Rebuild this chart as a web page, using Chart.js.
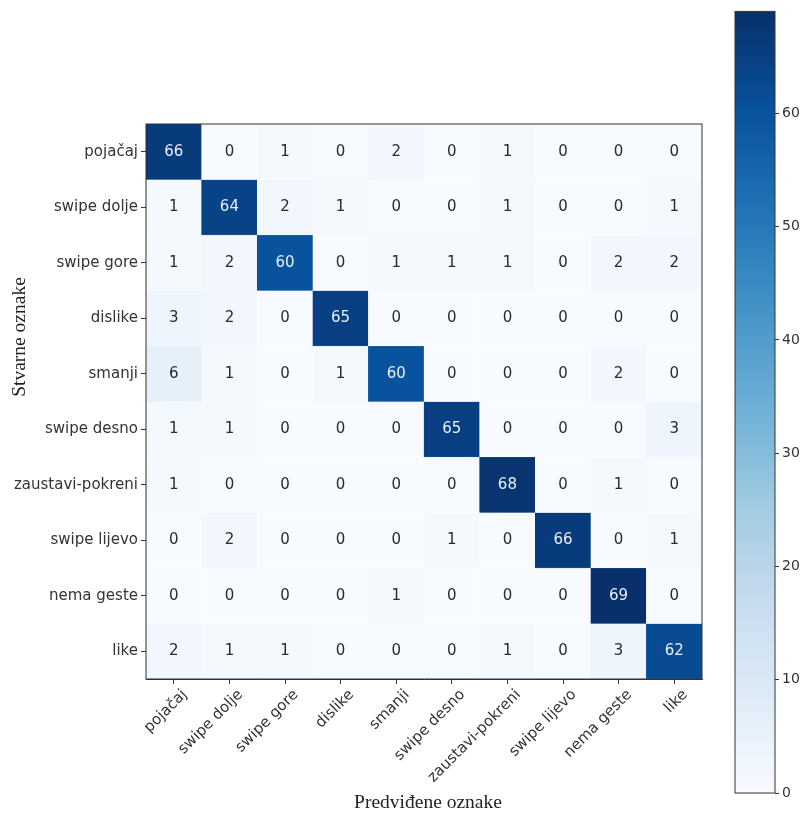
<!DOCTYPE html>
<html>
<head>
<meta charset="utf-8">
<script src="https://cdn.jsdelivr.net/npm/chart.js@4"></script>
<style>
  body { margin: 0; background: #fff; }
  #wrap { position: relative; width: 804px; height: 818px; }
  #matrix { position: absolute; left: 0; top: 0; }
  #cbar { position: absolute; left: 700px; top: 0; }
</style>
</head>
<body>
<div id="wrap">
  <canvas id="matrix" width="804" height="818"></canvas>
  <canvas id="cbar" width="104" height="818"></canvas>
</div>
<script>
// labels, same order on both axes
const predictedLabels = ["pojačaj", "swipe dolje", "swipe gore", "dislike", "smanji", "swipe desno", "zaustavi-pokreni", "swipe lijevo", "nema geste", "like"]
const trueLabels = ["pojačaj", "swipe dolje", "swipe gore", "dislike", "smanji", "swipe desno", "zaustavi-pokreni", "swipe lijevo", "nema geste", "like"]

// one row per true class
const rowPojacaj    = [66, 0, 1, 0, 2, 0, 1, 0, 0, 0]
const rowSwipeDolje = [1, 64, 2, 1, 0, 0, 1, 0, 0, 1]
const rowSwipeGore  = [1, 2, 60, 0, 1, 1, 1, 0, 2, 2]
const rowDislike    = [3, 2, 0, 65, 0, 0, 0, 0, 0, 0]
const rowSmanji     = [6, 1, 0, 1, 60, 0, 0, 0, 2, 0]
const rowSwipeDesno = [1, 1, 0, 0, 0, 65, 0, 0, 0, 3]
const rowZaustavi   = [1, 0, 0, 0, 0, 0, 68, 0, 1, 0]
const rowSwipeLijevo= [0, 2, 0, 0, 0, 1, 0, 66, 0, 1]
const rowNemaGeste  = [0, 0, 0, 0, 1, 0, 0, 0, 69, 0]
const rowLike       = [2, 1, 1, 0, 0, 0, 1, 0, 3, 62]

const colorbarTicks = [0, 10, 20, 30, 40, 50, 60]

const matrix = [rowPojacaj, rowSwipeDolje, rowSwipeGore, rowDislike, rowSmanji,
                rowSwipeDesno, rowZaustavi, rowSwipeLijevo, rowNemaGeste, rowLike]
const vmax = Math.max(...matrix.flat())

// matplotlib "Blues"
const blues = ["#f7fbff", "#deebf7", "#c6dbef", "#9ecae1", "#6baed6", "#4292c6", "#2171b5", "#08519c", "#08306b"]
function hexToRgb(h) {
  return [parseInt(h.slice(1, 3), 16), parseInt(h.slice(3, 5), 16), parseInt(h.slice(5, 7), 16)]
}
function bluesColor(t) {
  t = Math.max(0, Math.min(1, t))
  const pos = t * (blues.length - 1)
  const i = Math.min(Math.floor(pos), blues.length - 2)
  const f = pos - i
  const a = hexToRgb(blues[i]), b = hexToRgb(blues[i + 1])
  const c = a.map((v, k) => Math.round(v + (b[k] - v) * f))
  return `rgb(${c[0]},${c[1]},${c[2]})`
}

const tickFont = { family: "DejaVu Sans", size: 15 }
const textColor = "#333"

const datasets = matrix.map((row, r) => ({
  label: trueLabels[r],
  data: row.map(() => [r - 0.5, r + 0.5]),
  backgroundColor: row.map(v => bluesColor(v / vmax)),
  borderColor: row.map(v => bluesColor(v / vmax)),
  borderWidth: 0.5,
  barPercentage: 1,
  categoryPercentage: 1,
  grouped: false
}))

const cellText = {
  id: "cellText",
  afterDatasetsDraw(chart) {
    const { ctx, scales: { x, y }, chartArea } = chart
    ctx.save()
    ctx.font = "15px 'DejaVu Sans'"
    ctx.textAlign = "center"
    ctx.textBaseline = "middle"
    matrix.forEach((row, r) => {
      row.forEach((v, c) => {
        ctx.fillStyle = v > vmax / 2 ? "#e8eef8" : "#2a2a2a"
        ctx.fillText(v, x.getPixelForValue(c), y.getPixelForValue(r))
      })
    })
    ctx.strokeStyle = textColor
    ctx.lineWidth = 1
    ctx.strokeRect(chartArea.left, chartArea.top, chartArea.width, chartArea.height)
    // axis titles
    ctx.fillStyle = "#222"
    ctx.font = "19.5px 'Liberation Serif'"
    ctx.fillText("Predviđene oznake", (chartArea.left + chartArea.right) / 2 + 4, 803)
    ctx.translate(20, 337)
    ctx.rotate(-Math.PI / 2)
    ctx.fillText("Stvarne oznake", 0, 0)
    ctx.restore()
  }
}

new Chart(document.getElementById("matrix"), {
  type: "bar",
  data: { labels: predictedLabels, datasets: datasets },
  options: {
    responsive: false,
    devicePixelRatio: 1,
    animation: false,
    layout: { padding: { top: 124, right: 102, left: 0, bottom: 0 } },
    plugins: { legend: { display: false }, tooltip: { enabled: false } },
    scales: {
      x: {
        offset: true,
        grid: { offset: false, drawOnChartArea: false, drawTicks: true, tickLength: 5, color: textColor },
        border: { display: true, color: textColor },
        ticks: { font: tickFont, color: textColor, maxRotation: 45, minRotation: 45, padding: 2, labelOffset: 11, autoSkip: false },
        afterFit: s => { s.height = 818 - 679 }
      },
      y: {
        reverse: true,
        min: -0.5,
        max: 9.5,
        afterBuildTicks: s => { s.ticks = trueLabels.map((_, i) => ({ value: i })) },
        grid: { drawOnChartArea: false, drawTicks: true, tickLength: 5, color: textColor },
        border: { display: true, color: textColor },
        ticks: { font: tickFont, color: textColor, padding: 3, callback: v => trueLabels[v] },
        afterFit: s => { s.width = 146 }
      }
    }
  },
  plugins: [cellText]
})

// colorbar
const cbarFrame = {
  id: "cbarFrame",
  afterDatasetsDraw(chart) {
    const { ctx, chartArea } = chart
    ctx.save()
    ctx.strokeStyle = textColor
    ctx.lineWidth = 1
    ctx.strokeRect(chartArea.left, chartArea.top, chartArea.width, chartArea.height)
    ctx.restore()
  }
}

new Chart(document.getElementById("cbar"), {
  type: "bar",
  data: {
    labels: ["cbar"],
    datasets: [{
      data: [[0, vmax]],
      barPercentage: 1,
      categoryPercentage: 1,
      borderWidth: 0,
      backgroundColor: context => {
        const { ctx, chartArea, scales } = context.chart
        if (!chartArea) return blues[4]
        const g = ctx.createLinearGradient(0, scales.y.getPixelForValue(0), 0, scales.y.getPixelForValue(vmax))
        blues.forEach((c, i) => g.addColorStop(i / (blues.length - 1), c))
        return g
      }
    }]
  },
  options: {
    responsive: false,
    devicePixelRatio: 1,
    animation: false,
    layout: { padding: { top: 10, left: 35, right: 0, bottom: 818 - 793 } },
    plugins: { legend: { display: false }, tooltip: { enabled: false } },
    scales: {
      x: { display: false },
      y: {
        position: "right",
        min: 0,
        max: vmax,
        afterBuildTicks: s => { s.ticks = colorbarTicks.map(v => ({ value: v })) },
        grid: { drawOnChartArea: false, drawTicks: true, tickLength: 4, color: textColor },
        border: { display: false },
        ticks: { font: { family: "DejaVu Sans", size: 14 }, color: textColor, padding: 3 },
        afterFit: s => { s.width = 104 - 75 }
      }
    }
  },
  plugins: [cbarFrame]
})
</script>
</body>
</html>
